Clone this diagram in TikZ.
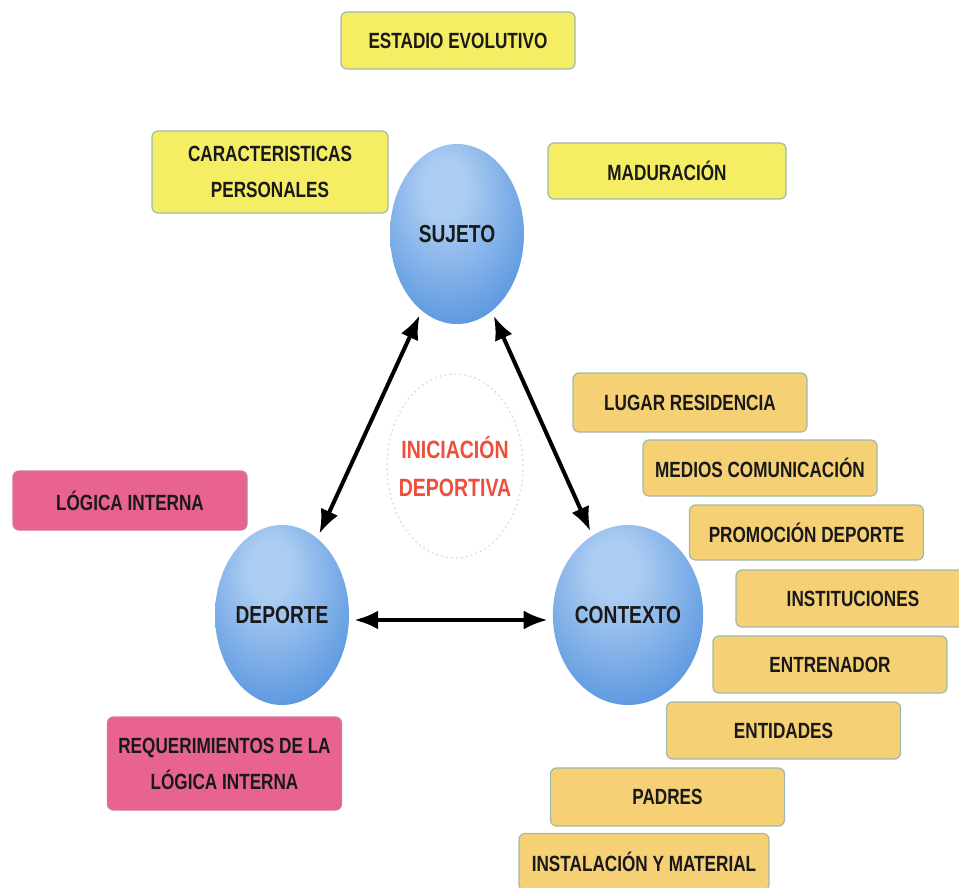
\documentclass[tikz,border=0pt]{standalone}
\usepackage{fontspec}
\usetikzlibrary{shapes.geometric,arrows.meta}
\newfontfamily\diagfont[FakeStretch=0.78]{Liberation Sans}

\definecolor{boxyellow}{RGB}{245,237,100}
\definecolor{boxorange}{RGB}{246,208,116}
\definecolor{boxpink}{RGB}{232,100,142}
\definecolor{boxline}{RGB}{160,185,170}
\definecolor{pinkline}{RGB}{205,120,160}
\definecolor{sphEdge}{RGB}{42,116,204}
\definecolor{sphMid}{RGB}{92,152,224}
\definecolor{sphLight}{RGB}{172,205,242}
\definecolor{titlered}{RGB}{238,78,58}
\definecolor{ringpink}{RGB}{248,214,214}

% soft blue sphere with a highlight above the centre
\pgfdeclareradialshading{spherefill}{\pgfpoint{-5bp}{14bp}}{%
  color(0bp)=(sphLight); color(8bp)=(sphLight);
  color(34bp)=(sphMid); color(54bp)=(sphEdge); color(80bp)=(sphEdge)}

\begin{document}
\begin{tikzpicture}[x=1pt,y=-1pt,
  box/.style={draw=boxline, line width=1.2pt, rounded corners=6pt,
    minimum width=234pt, minimum height=57pt, inner sep=0pt, align=center,
    font=\diagfont\bfseries\fontsize{22}{36}\selectfont, text=black!90},
  yellowbox/.style={box, fill=boxyellow},
  orangebox/.style={box, fill=boxorange},
  pinkbox/.style={box, fill=boxpink, draw=pinkline},
  sphere/.style={ellipse, minimum width=134pt, minimum height=180pt,
    inner sep=0pt, shading=spherefill,
    font=\diagfont\bfseries\fontsize{24.6}{28}\selectfont, text=black!90},
  link/.style={line width=4pt, shorten <=5pt, shorten >=5pt,
    {Latex[length=24pt,width=19pt]}-{Latex[length=24pt,width=19pt]}}
]
\useasboundingbox (0,0) rectangle (959,888);
\fill[white] (0,0) rectangle (959,888);

% central theme with its faint ring
\node[ellipse, draw=ringpink, line width=1.4pt, dash pattern=on 2pt off 3pt,
  minimum width=136pt, minimum height=184pt] (ring) at (455,466) {};
\node[align=center, text=titlered,
  font=\diagfont\bfseries\fontsize{25}{38}\selectfont] (tema) at (455,467)
  {INICIACIÓN\\DEPORTIVA};

% the three poles
\node[sphere] (sujeto) at (457,234) {SUJETO};
\node[sphere] (deporte) at (282,615) {DEPORTE};
\node[sphere] (contexto) at (628,615) {CONTEXTO};

% mutual relations
\draw[link] (sujeto) -- (deporte);
\draw[link] (sujeto) -- (contexto);
\draw[link] ([yshift=-5pt]deporte.east) -- ([yshift=-5pt]contexto.west);

% factors of the subject
\node[yellowbox] (estadio) at (458,40.5) {ESTADIO EVOLUTIVO};
\node[yellowbox, minimum width=236pt, minimum height=82pt] (caract) at (270,172)
  {CARACTERISTICAS\\PERSONALES};
\node[yellowbox, minimum width=238pt, minimum height=56pt] (madur) at (667,171) {MADURACIÓN};

% factors of the sport
\node[pinkbox, minimum height=59pt] (logica) at (130,500.5) {LÓGICA INTERNA};
\node[pinkbox, minimum height=93pt] (requer) at (224.5,763.5)
  {REQUERIMIENTOS DE LA\\LÓGICA INTERNA};

% factors of the context
\node[orangebox, minimum height=59pt] (lugar) at (690,402.5) {LUGAR RESIDENCIA};
\node[orangebox, minimum height=56pt] (medios) at (760,468) {MEDIOS COMUNICACIÓN};
\node[orangebox, minimum height=55pt] (promo) at (806.5,532.5) {PROMOCIÓN DEPORTE};
\node[orangebox] (instit) at (853,598.5) {INSTITUCIONES};
\node[orangebox] (entren) at (830,664.5) {ENTRENADOR};
\node[orangebox] (entid) at (783.5,730.5) {ENTIDADES};
\node[orangebox, minimum height=58pt] (padres) at (667.5,797) {PADRES};
\node[orangebox, minimum width=250pt] (instal) at (644,862) {INSTALACIÓN Y MATERIAL};
\end{tikzpicture}
\end{document}
